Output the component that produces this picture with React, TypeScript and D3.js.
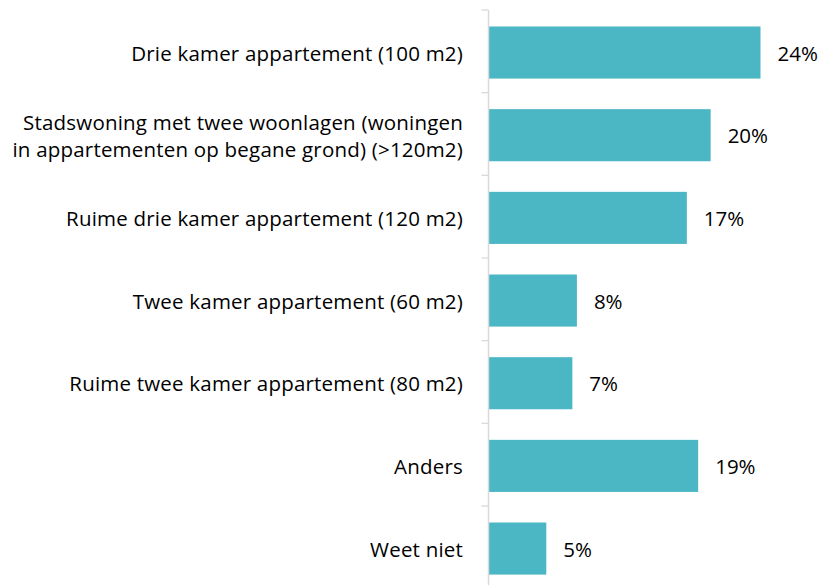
import React from "react";
import * as d3 from "d3";

const categories: string[][] = [
  ["Drie kamer appartement (100 m2)"],
  ["Stadswoning met twee woonlagen (woningen", "in appartementen op begane grond) (>120m2)"],
  ["Ruime drie kamer appartement (120 m2)"],
  ["Twee kamer appartement (60 m2)"],
  ["Ruime twee kamer appartement (80 m2)"],
  ["Anders"],
  ["Weet niet"],
];
const values: number[] = [24.0, 19.6, 17.5, 7.8, 7.4, 18.5, 5.1];
const valueLabels: string[] = ["24%", "20%", "17%", "8%", "7%", "19%", "5%"];

const W = 821;
const H = 585;
const axisX = 488.5;
const top = 10;
const band = 82.67;

export default function App() {
  const ids = categories.map((_, i) => String(i));
  const y = d3
    .scaleBand<string>()
    .domain(ids)
    .range([top + 1.2, top + 1.2 + band * ids.length])
    .paddingInner(0.37)
    .paddingOuter(0.185);
  const x = d3.scaleLinear().domain([0, 24]).range([axisX, axisX + 272]);
  const font = "'Open Sans', Lato, sans-serif";
  const fs = 20.5;
  return (
    <svg
      width={W}
      height={H}
      style={{ position: "absolute", left: 0, top: 0, background: "#fff" }}
    >
      {d3.range(ids.length + 1).map((i) => (
        <line
          key={"t" + i}
          x1={axisX - 7}
          x2={axisX}
          y1={top + i * band}
          y2={top + i * band}
          stroke="#d9d9d9"
          strokeWidth={1.3}
        />
      ))}
      {ids.map((id, i) => (
        <rect
          key={"b" + id}
          x={x(0)}
          y={y(id)!}
          width={x(values[i]) - x(0)}
          height={y.bandwidth()}
          fill="#4bb6c4"
        />
      ))}
      <line
        x1={axisX}
        x2={axisX}
        y1={top}
        y2={H + 10}
        stroke="#d9d9d9"
        strokeWidth={1.5}
      />
      {ids.map((id, i) => {
        const cy = y(id)! + y.bandwidth() / 2;
        const lines = categories[i];
        const lh = 27;
        return (
          <g key={"l" + id}>
            {lines.map((ln, j) => (
              <text
                key={j}
                x={463}
                y={cy + (j - (lines.length - 1) / 2) * lh}
                textAnchor="end"
                dominantBaseline="central"
                fontFamily={font}
                fontSize={fs}
                letterSpacing={0.2}
                fill="#000"
              >
                {ln}
              </text>
            ))}
            <text
              x={x(values[i]) + 17}
              y={cy}
              dominantBaseline="central"
              fontFamily={font}
              fontSize={fs}
              fill="#000"
            >
              {valueLabels[i]}
            </text>
          </g>
        );
      })}
    </svg>
  );
}
